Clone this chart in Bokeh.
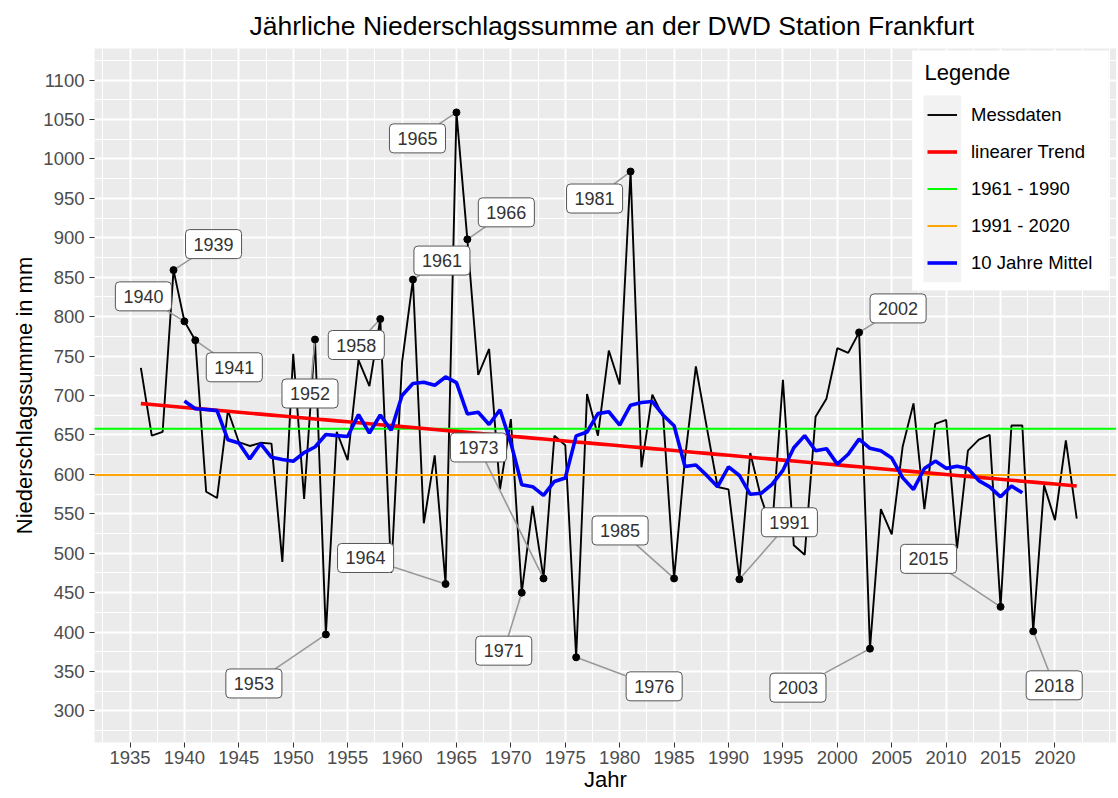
import numpy as np
from bokeh.plotting import figure
from bokeh.models import (Range1d, FixedTicker, Label, Legend, LegendItem,
                          BoxAnnotation)
from bokeh.embed import file_html
from bokeh.resources import INLINE

# ---------------- data ----------------
years = list(range(1936, 2023))
precip = [735, 649, 654, 859, 794, 770, 578, 570, 681, 641,   # 1936-1945
          636, 640, 639, 489, 753, 569, 771, 397, 654, 618,   # 1946-1955
          745, 712, 797, 475, 742, 847, 538, 624, 461, 1059,  # 1956-1965
          898, 726, 759, 581, 670, 450, 560, 468, 649, 637,   # 1966-1975
          368, 702, 649, 757, 714, 984, 609, 701, 673, 468,   # 1976-1985
          620, 737, 660, 584, 581, 467, 627, 570, 530, 720,   # 1986-1995
          510, 498, 673, 696, 760, 754, 780, 379, 556, 524,   # 1996-2005
          635, 690, 556, 664, 669, 506, 630, 644, 650, 432,   # 2006-2015
          662, 662, 401, 586, 542, 643, 544]                  # 2016-2022
assert len(years) == len(precip)

highlight_years = [1939, 1940, 1941, 1952, 1953, 1958, 1961, 1964, 1965, 1966,
                   1971, 1973, 1976, 1981, 1985, 1991, 2002, 2003, 2015, 2018]
x_tick_values = list(range(1935, 2021, 5))
y_tick_values = list(range(300, 1101, 50))
legend_labels = ["Messdaten", "linearer Trend", "1961 - 1990", "1991 - 2020", "10 Jahre Mittel"]
period_a = (1961, 1990)
period_b = (1991, 2020)
window = 10

# ---------------- derived series (as in the original chart) ----------------
yr = np.array(years, dtype=float)
pr = np.array(precip, dtype=float)
slope, intercept = np.polyfit(yr, pr, 1)
trend = slope * yr + intercept
mean_a = pr[(yr >= period_a[0]) & (yr <= period_a[1])].mean()
mean_b = pr[(yr >= period_b[0]) & (yr <= period_b[1])].mean()
roll = np.convolve(pr, np.ones(window) / window, mode="valid")
roll_years = yr[window // 2 - 1: window // 2 - 1 + len(roll)]

# ---------------- layout (pixels) ----------------
W, H = 1116, 796
FL, FR, FT, FB = 94, 1116, 48, 742            # frame edges in px
PX_PER_YEAR = 10.882
X0 = 1935 - (129.5 - FL) / PX_PER_YEAR
X1 = X0 + (FR - FL) / PX_PER_YEAR
Y0, Y1 = 260, 1140
PX_PER_UNIT = (FB - FT) / (Y1 - Y0)

def px_x(px):
    return X0 + (px - FL) / PX_PER_YEAR

def px_y(py):
    return Y1 - (py - FT) / PX_PER_UNIT

FONT = "Liberation Sans"

p = figure(width=W, height=H, output_backend="svg", toolbar_location=None,
           x_range=Range1d(X0, X1), y_range=Range1d(Y0, Y1),
           min_border_left=FL, min_border_right=W - FR,
           min_border_top=FT, min_border_bottom=H - FB)

p.background_fill_color = "#EBEBEB"
p.border_fill_color = "white"
p.outline_line_color = None

# title
p.title.text = "Jährliche Niederschlagssumme an der DWD Station Frankfurt"
p.title.align = "left"
p.title.offset = 155
p.title.vertical_align = "top"
p.title.standoff = 12
p.title.text_font = FONT
p.title.text_font_size = "26.5px"
p.title.text_font_style = "normal"
p.title.text_color = "black"

# grid
x_minor = [t + 2.5 for t in range(1930, 2025, 5)] + [x_tick_values[-1] + 5]
y_minor = [t + 25 for t in range(250, 1150, 50)]
p.xgrid.ticker = FixedTicker(ticks=x_tick_values, minor_ticks=x_minor)
p.ygrid.ticker = FixedTicker(ticks=y_tick_values, minor_ticks=y_minor)
for g in (p.xgrid[0], p.ygrid[0]):
    g.grid_line_color = "white"
    g.grid_line_width = 2
    g.minor_grid_line_color = "white"
    g.minor_grid_line_width = 1

# axes
p.xaxis.ticker = FixedTicker(ticks=x_tick_values)
p.yaxis.ticker = FixedTicker(ticks=y_tick_values)
for ax in (p.xaxis[0], p.yaxis[0]):
    ax.axis_line_color = None
    ax.major_tick_line_color = "#333333"
    ax.major_tick_line_width = 1
    ax.major_tick_out = 5
    ax.major_tick_in = 0
    ax.minor_tick_line_color = None
    ax.major_label_text_font = FONT
    ax.major_label_text_font_size = "18.5px"
    ax.major_label_text_color = "#4D4D4D"
    ax.axis_label_text_font = FONT
    ax.axis_label_text_font_size = "22px"
    ax.axis_label_text_font_style = "normal"
    ax.axis_label_text_color = "black"
p.xaxis.major_label_standoff = 3
p.yaxis.major_label_standoff = 5
p.yaxis.axis_label = "Niederschlagssumme in mm"
p.yaxis.axis_label_standoff = 3
p.xaxis.axis_label = "Jahr"
p.xaxis.axis_label_standoff = 0

# ---------------- series ----------------
r_data = p.line(years, precip, line_color="black", line_width=1.9)
hx = list(highlight_years)
hv = [precip[years.index(y)] for y in highlight_years]

r_a = p.line([X0 - 5, X1 + 5], [mean_a, mean_a], line_color="#00FF00", line_width=2)
r_b = p.line([X0 - 5, X1 + 5], [mean_b, mean_b], line_color="#FFA500", line_width=2)
r_trend = p.line(yr, trend, line_color="#FF0000", line_width=3.6)
r_roll = p.line(roll_years, roll, line_color="#0000FF", line_width=3.6)

# label offsets (px: box centre minus point, y downward) - positions only
label_offsets = {1939: (40, -26), 1940: (-41, -25), 1941: (39, 27), 1952: (-5, 54),
                 1953: (-72, 49), 1958: (-24, 26), 1961: (29, -19), 1964: (-80, -26),
                 1965: (-39, 26), 1966: (39, -27), 1971: (-18, 58), 1973: (-65, -131),
                 1976: (78, 29), 1981: (-36, 27), 1985: (-54, -48), 1991: (50, -57),
                 2002: (39, -24), 2003: (-72, 39), 2015: (-72, -48), 2018: (21, 54)}
HW, HH = 28.5, 14.5
sx0, sy0, sx1, sy1 = [], [], [], []
for y, v in zip(hx, hv):
    dx, dy = label_offsets[y]
    s = min(HW / abs(dx) if dx else 1e9, HH / abs(dy) if dy else 1e9)
    if s >= 1:
        continue
    ex, ey = dx - s * dx, dy - s * dy
    sx0.append(y); sy0.append(v)
    sx1.append(y + ex / PX_PER_YEAR); sy1.append(v - ey / PX_PER_UNIT)
p.segment(sx0, sy0, sx1, sy1, line_color="#999999", line_width=1.6)
p.scatter(hx, hv, size=7, color="black")

for y, v in zip(hx, hv):
    dx, dy = label_offsets[y]
    p.add_layout(Label(x=y, y=v, x_offset=dx, y_offset=-dy, text=str(y),
                       text_align="center", text_baseline="middle",
                       text_font=FONT, text_font_size="18px", text_color="#333333",
                       background_fill_color="white", border_line_color="#555555",
                       border_line_width=1, padding=dict(x=8, y=8), border_radius=4))

# ---------------- legend ----------------
p.add_layout(BoxAnnotation(left=px_x(911.7), right=px_x(1108.3), top=px_y(50), bottom=px_y(290),
                           fill_color="white", fill_alpha=1, line_color=None))
p.add_layout(BoxAnnotation(left=px_x(923), right=px_x(960.7), top=px_y(95), bottom=px_y(281.7),
                           fill_color="#F2F2F2", fill_alpha=1, line_color=None))
p.add_layout(Label(x=px_x(924), y=px_y(72), text="Legende", text_align="left",
                   text_baseline="middle", text_font=FONT, text_font_size="22px",
                   text_color="black"))
items = [LegendItem(label=lab, renderers=[r]) for lab, r in
         zip(legend_labels, [r_data, r_trend, r_a, r_b, r_roll])]
legend = Legend(items=items, location=(833, FB - 281), orientation="vertical",
                padding=0, spacing=0, margin=0, glyph_width=30, glyph_height=37,
                label_height=37, label_standoff=14, label_text_font=FONT,
                label_text_font_size="18.5px", label_text_color="black",
                background_fill_alpha=0, border_line_color=None)
p.add_layout(legend)

open("out.html", "w").write(file_html(p, INLINE))
